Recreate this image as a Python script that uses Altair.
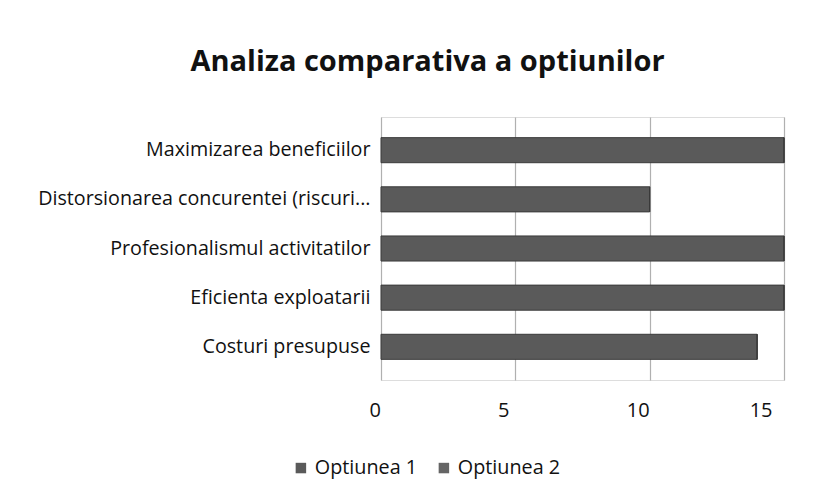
import altair as alt
import pandas as pd

categories = ["Maximizarea beneficiilor", "Distorsionarea concurentei (riscuri...",
              "Profesionalismul activitatilor", "Eficienta exploatarii", "Costuri presupuse"]
opt1 = [15, 10, 15, 15, 14]
opt2 = [0, 0, 0, 0, 0]
series = ["Optiunea 1", "Optiunea 2"]

rows = []
for c, a, b in zip(categories, opt1, opt2):
    rows.append({"cat": c, "serie": series[0], "val": a})
    rows.append({"cat": c, "serie": series[1], "val": b})
df = pd.DataFrame(rows)

FONT = "Open Sans"

chart = alt.Chart(df).mark_bar(stroke="#3a3a3a", strokeWidth=1).encode(
    y=alt.Y("cat:N", sort=categories, title=None,
            scale=alt.Scale(paddingInner=0.49, paddingOuter=0.42),
            axis=alt.Axis(labelFontSize=19.7, labelColor="#111", labelFont=FONT,
                          ticks=False, domain=False, labelPadding=11, labelLimit=400)),
    x=alt.X("val:Q", stack="zero", title=None,
            scale=alt.Scale(domain=[0, 15], nice=False),
            axis=alt.Axis(values=[0, 5, 10, 15], labelFontSize=20, labelColor="#111",
                          labelFont=FONT, ticks=False, domain=False, labelPadding=20,
                          labelOffset=-12,
                          grid=True, gridColor="#b0b0b0", gridWidth=1.2)),
    color=alt.Color("serie:N", scale=alt.Scale(domain=series, range=["#5a5a5a", "#656565"]),
                    legend=alt.Legend(orient="none", direction="horizontal", title=None,
                                      symbolType="square", symbolSize=110, labelFontSize=19.8,
                                      labelFont=FONT, labelColor="#111", columnPadding=16,
                                      symbolStrokeWidth=0, legendX=-90, legendY=341)),
    order=alt.Order("serie:N"),
).properties(
    width=403, height=263,
    title=alt.TitleParams("Analiza comparativa a optiunilor", fontSize=29, font=FONT,
                          fontWeight="bold", color="#111", offset=40, anchor="middle", dx=-155),
    padding={"left": 29, "top": 40, "right": 20, "bottom": 5},
).configure_view(stroke=None).configure(background="white")

chart.save("out.html", embed_options={"renderer": "svg", "actions": False})
